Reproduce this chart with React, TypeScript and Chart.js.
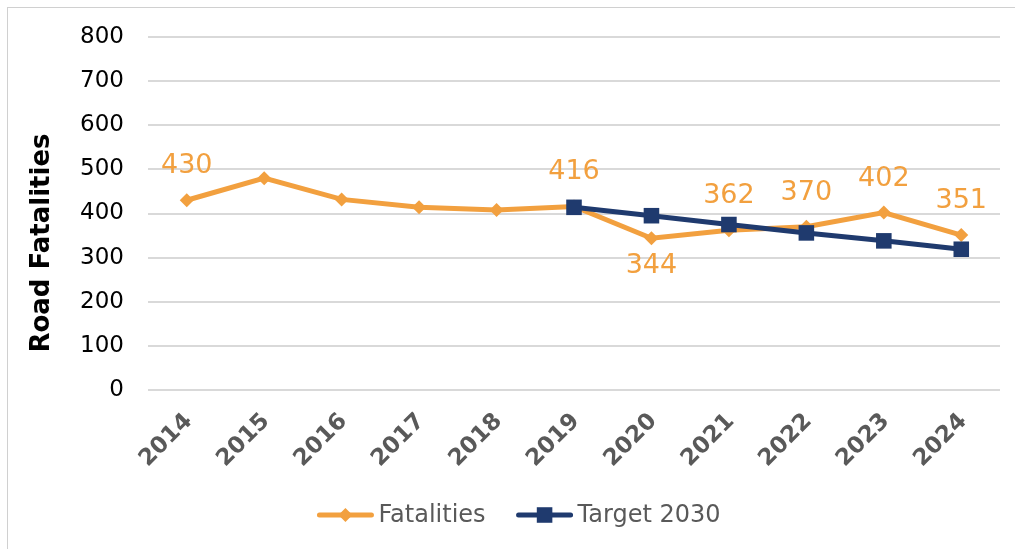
import React, { useEffect, useRef } from 'react';
import { Chart, registerables } from 'chart.js';

Chart.register(...registerables);

const years = ['2014', '2015', '2016', '2017', '2018', '2019', '2020', '2021', '2022', '2023', '2024'];
const fatalities = [430, 480, 432, 414, 408, 416, 344, 362, 370, 402, 351];
const target2030 = [null, null, null, null, null, 414, 395, 375, 356, 338, 319];
const fatalityLabelPlacement = ['above', '', '', '', '', 'above', 'below', 'above', 'above', 'above', 'above'];
const seriesNames = ['Fatalities', 'Target 2030'];
const yAxisTitle = 'Road Fatalities';
const yMin = 0;
const yMax = 800;
const yStep = 100;

const ORANGE = '#F2A03F';
const NAVY = '#1F3A6E';
const FONT = "'DejaVu Sans', Verdana, sans-serif";

const dataLabelsPlugin = {
  id: 'dataLabels',
  afterDatasetsDraw(chart: any) {
    const ctx = chart.ctx;
    const meta = chart.getDatasetMeta(0);
    ctx.save();
    ctx.font = `27px ${FONT}`;
    ctx.fillStyle = ORANGE;
    ctx.textAlign = 'center';
    ctx.textBaseline = 'middle';
    fatalityLabelPlacement.forEach((p, i) => {
      if (!p) return;
      const el = meta.data[i];
      const y = p === 'above' ? el.y - 34 : el.y + 28;
      ctx.fillText(String(fatalities[i]), el.x, y);
    });
    ctx.restore();
  },
};

const yTitlePlugin = {
  id: 'yTitle',
  afterDraw(chart: any) {
    const ctx = chart.ctx;
    ctx.save();
    ctx.font = `bold 26px ${FONT}`;
    ctx.fillStyle = '#000000';
    ctx.textAlign = 'center';
    ctx.textBaseline = 'middle';
    ctx.translate(34, 235);
    ctx.rotate(-Math.PI / 2);
    ctx.fillText(yAxisTitle, 0, 0);
    ctx.restore();
  },
};

const legendPlugin = {
  id: 'customLegend',
  afterDraw(chart: any) {
    const ctx = chart.ctx;
    ctx.save();
    ctx.font = `24px ${FONT}`;
    const lineLen = 56;
    const gap = 5;
    const itemGap = 31;
    const widths = seriesNames.map((n) => ctx.measureText(n).width);
    const total = widths.reduce((a, w) => a + lineLen + gap + w, 0) + itemGap;
    let x = 511 - total / 2;
    const y = 507;
    const colors = [ORANGE, NAVY];
    const styles = ['rectRot', 'rect'];
    const radii = [7, 11];
    seriesNames.forEach((name, i) => {
      ctx.strokeStyle = colors[i];
      ctx.lineWidth = 5;
      ctx.lineCap = 'round';
      ctx.beginPath();
      ctx.moveTo(x + 2, y);
      ctx.lineTo(x + lineLen - 2, y);
      ctx.stroke();
      ctx.fillStyle = colors[i];
      const cx = x + lineLen / 2;
      ctx.beginPath();
      if (styles[i] === 'rectRot') {
        const r = radii[i];
        ctx.moveTo(cx, y - r);
        ctx.lineTo(cx + r, y);
        ctx.lineTo(cx, y + r);
        ctx.lineTo(cx - r, y);
        ctx.closePath();
      } else {
        const s = radii[i] * Math.SQRT1_2;
        ctx.rect(cx - s, y - s, 2 * s, 2 * s);
      }
      ctx.fill();
      ctx.fillStyle = '#595959';
      ctx.textAlign = 'left';
      ctx.textBaseline = 'middle';
      ctx.fillText(name, x + lineLen + gap, y + 1);
      x += lineLen + gap + widths[i] + itemGap;
    });
    ctx.restore();
  },
};

export default function App() {
  const ref = useRef<HTMLCanvasElement | null>(null);

  useEffect(() => {
    if (!ref.current) return;
    const chart = new Chart(ref.current, {
      type: 'line',
      data: {
        labels: years,
        datasets: [
          {
            label: seriesNames[0],
            data: fatalities,
            borderColor: ORANGE,
            backgroundColor: ORANGE,
            borderWidth: 5,
            pointStyle: 'rectRot',
            pointRadius: 7,
            pointBorderWidth: 0,
            pointBackgroundColor: ORANGE,
            tension: 0,
            order: 1,
          },
          {
            label: seriesNames[1],
            data: target2030,
            borderColor: NAVY,
            backgroundColor: NAVY,
            borderWidth: 5,
            pointStyle: 'rect',
            pointRadius: 11,
            pointBorderWidth: 0,
            pointBackgroundColor: NAVY,
            tension: 0,
            order: 0,
          },
        ],
      },
      options: {
        responsive: false,
        animation: false,
        devicePixelRatio: 1,
        layout: { padding: { left: 16, right: 15, top: 29, bottom: 0 } },
        plugins: {
          legend: { display: false },
          tooltip: { enabled: false },
        },
        scales: {
          x: {
            offset: true,
            grid: { display: false, drawTicks: false },
            border: { display: false },
            ticks: {
              autoSkip: false,
              maxRotation: 45,
              minRotation: 45,
              padding: 18,
              labelOffset: 2,
              color: '#595959',
              font: { family: FONT, size: 23, weight: 'bold' },
            },
            afterFit(scale: any) {
              scale.height = 159;
            },
          },
          y: {
            min: yMin,
            max: yMax,
            grid: { color: '#d9d9d9', lineWidth: 2, drawTicks: false },
            border: { display: false },
            ticks: {
              stepSize: yStep,
              padding: 24,
              color: '#000000',
              font: { family: FONT, size: 23 },
            },
            afterFit(scale: any) {
              scale.width = 124;
              scale.paddingTop = 0;
              scale.paddingBottom = 0;
            },
          },
        },
      },
      plugins: [dataLabelsPlugin, yTitlePlugin, legendPlugin],
    });
    return () => chart.destroy();
  }, []);

  return (
    <div
      style={{
        position: 'absolute',
        left: 7,
        top: 7,
        width: 1008,
        height: 542,
        boxSizing: 'border-box',
        borderLeft: '1px solid #d0d0d0',
        borderTop: '1px solid #d0d0d0',
        background: '#ffffff',
      }}
    >
      <canvas ref={ref} width={1007} height={541} style={{ display: 'block' }} />
    </div>
  );
}
